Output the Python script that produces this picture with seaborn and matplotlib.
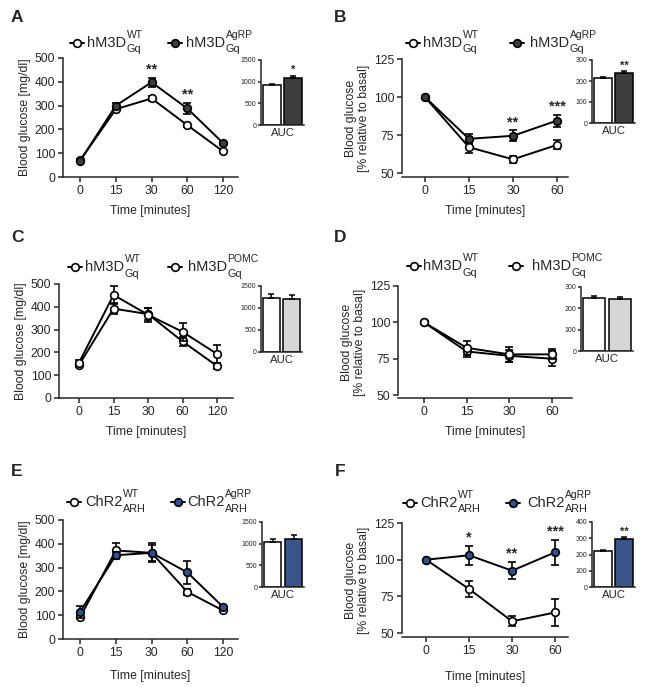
import numpy as np
import pandas as pd
import matplotlib
matplotlib.use("Agg")
import matplotlib.pyplot as plt
from matplotlib.lines import Line2D
import seaborn as sns

# --- data ---
t_long = ["0", "15", "30", "60", "120"]
t_short = ["0", "15", "30", "60"]

a_wt = [70, 285, 330, 218, 108]
a_wt_err = [5, 8, 12, 10, 5]
a_agrp = [68, 300, 398, 288, 143]
a_agrp_err = [5, 10, 18, 25, 8]
a_auc = [925, 1095]
a_auc_err = [20, 45]

b_wt = [100, 67, 59, 68.5]
b_wt_err = [0, 4, 2.5, 3]
b_agrp = [100, 72.5, 74.5, 84.5]
b_agrp_err = [0, 3, 3.5, 4]
b_auc = [213, 240]
b_auc_err = [4, 6]

c_wt = [145, 392, 368, 248, 140]
c_wt_err = [10, 25, 28, 18, 12]
c_pomc = [155, 452, 365, 290, 193]
c_pomc_err = [10, 38, 30, 38, 38]
c_auc = [1225, 1215]
c_auc_err = [100, 90]

d_wt = [100, 80, 77, 75]
d_wt_err = [0, 3.5, 4, 5]
d_pomc = [100, 82.5, 78, 78]
d_pomc_err = [0, 5, 5, 3.5]
d_auc = [248, 246]
d_auc_err = [12, 6]

e_wt = [92, 372, 362, 198, 120]
e_wt_err = [5, 30, 35, 12, 6]
e_agrp = [115, 352, 362, 280, 135]
e_agrp_err = [25, 15, 40, 48, 6]
e_auc = [1030, 1110]
e_auc_err = [70, 100]

f_wt = [100, 80, 58, 64]
f_wt_err = [0, 5.5, 3.5, 9.5]
f_agrp = [100, 103, 92.5, 105]
f_agrp_err = [0, 6.5, 6, 8.5]
f_auc = [220, 297]
f_auc_err = [7, 10]

a_stars = {2: "**", 3: "**"}
b_stars = {2: "**", 3: "***"}
f_stars = {1: "*", 2: "**", 3: "***"}

# legend labels: (base, subscript, superscript)
lab_gq = [("hM3D", "Gq", "WT"), ("hM3D", "Gq", "AgRP")]
lab_pomc = [("hM3D", "Gq", "WT"), ("hM3D", "Gq", "POMC")]
lab_chr = [("ChR2", "ARH", "WT"), ("ChR2", "ARH", "AgRP")]

DARK = "#3d3d3d"
BLUE = "#2b5197"
LIGHT = "#d6d6d6"

sns.set_style("ticks")
plt.rcParams["font.family"] = ["Liberation Sans", "DejaVu Sans"]
plt.rcParams["axes.linewidth"] = 1.1
plt.rcParams["xtick.major.width"] = 1.1
plt.rcParams["ytick.major.width"] = 1.1

W, H = 645, 687
fig = plt.figure(figsize=(W / 100, H / 100), dpi=100)
renderer = fig.canvas.get_renderer()


def box(l, t, r, b):
    return fig.add_axes([l / W, 1 - b / H, (r - l) / W, (b - t) / H])


def fy(y):
    return 1 - y / H


def legend_entry(x0, xt, y, fc, label):
    base, sub, sup = label
    fig.add_artist(Line2D([x0 / W, (x0 + 7) / W, (x0 + 14) / W], [fy(y)] * 3,
                          color="black", lw=1.4, marker="o", markevery=[1],
                          markersize=5.5, markerfacecolor=fc, markeredgecolor="black",
                          markeredgewidth=1.2))
    t = fig.text(xt / W, fy(y), base, fontsize=10.5, va="center", ha="left")
    bb = t.get_window_extent(renderer)
    xs = bb.x1 / W + 0.5 / W
    fig.text(xs, fy(y + 6.5), sub, fontsize=7.8, va="center", ha="left")
    fig.text(xs, fy(y - 8), sup, fontsize=7.5, va="center", ha="left")


def line_panel(ax, ticks, s1, e1, s2, e2, fc2, ylim, yticks, xlim,
               ylabel, stars=None, ybound=None, xpad=6):
    x = np.arange(len(ticks))
    for s, e, fc, z in [(s1, e1, "white", 3), (s2, e2, fc2, 4)]:
        ax.errorbar(x, s, yerr=e, fmt="none", ecolor="black", elinewidth=1.2,
                    capsize=3, capthick=1.2, zorder=z - 1, clip_on=False)
        sns.lineplot(x=x, y=s, ax=ax, color="black", linewidth=1.4, marker="o",
                     markersize=5.5, markerfacecolor=fc, markeredgecolor="black",
                     markeredgewidth=1.2, zorder=z, clip_on=False)
    if stars:
        for i, st in stars.items():
            top = max(s1[i] + e1[i], s2[i] + e2[i])
            ax.annotate(st, (i, top), xytext=(0, 1), textcoords="offset points",
                        ha="center", va="bottom", fontsize=10.5, fontweight="bold")
    ax.set_xlim(*xlim)
    ax.set_ylim(*ylim)
    ax.set_xticks(x)
    ax.set_xticklabels(ticks)
    ax.set_yticks(yticks)
    ax.tick_params(labelsize=8.8, length=3.5, pad=2)
    ax.set_xlabel("Time [minutes]", fontsize=8.8, labelpad=xpad)
    ax.set_ylabel(ylabel, fontsize=8.8, labelpad=3, linespacing=1.1)
    sns.despine(ax=ax)
    if ybound:
        ax.spines["left"].set_bounds(*ybound)


def auc_panel(ax, vals, errs, color, ylim, yticks, star=None):
    df = pd.DataFrame({"g": ["WT", "KO"], "v": vals})
    sns.barplot(data=df, x="g", y="v", hue="g", palette=["white", color], ax=ax,
                width=0.84, edgecolor="black", linewidth=1.1, legend=False)
    ax.errorbar([0, 1], vals, yerr=[[0, 0], errs], fmt="none", ecolor="black",
                elinewidth=1.1, capsize=2.5, capthick=1.1)
    if star:
        ax.annotate(star, (1, vals[1] + errs[1]), xytext=(0, 0.5), textcoords="offset points",
                    ha="center", va="bottom", fontsize=8, fontweight="bold")
    ax.set_xlim(-0.5, 1.5)
    ax.set_ylim(*ylim)
    ax.set_yticks(yticks)
    ax.set_xticks([])
    ax.set_xlabel("AUC", fontsize=8.2, labelpad=2)
    ax.set_ylabel("")
    ax.tick_params(axis="y", labelsize=5, length=2.5, pad=1)
    sns.despine(ax=ax)


gl = "Blood glucose [mg/dl]"
gr = "Blood glucose\n[% relative to basal]"

# A
ax = box(63, 58, 238, 177)
line_panel(ax, t_long, a_wt, a_wt_err, a_agrp, a_agrp_err, DARK,
           (0, 500), range(0, 501, 100), (-0.48, 4.42), gl, a_stars)
auc_panel(box(261, 60, 304, 125), a_auc, a_auc_err, DARK, (0, 1500), range(0, 1501, 500), "*")
legend_entry(70, 87, 43, "white", lab_gq[0])
legend_entry(168, 186, 43, DARK, lab_gq[1])

# B
ax = box(402, 59, 568, 177)
line_panel(ax, t_short, b_wt, b_wt_err, b_agrp, b_agrp_err, DARK,
           (47.4, 125), [50, 75, 100, 125], (-0.52, 3.25), gr, b_stars, (50, 125))
auc_panel(box(592, 60, 635, 123), b_auc, b_auc_err, DARK, (0, 300), range(0, 301, 100), "**")
legend_entry(406, 423, 43, "white", lab_gq[0])
legend_entry(510, 530, 43, DARK, lab_gq[1])

# C
ax = box(59, 284, 233, 398)
line_panel(ax, t_long, c_wt, c_wt_err, c_pomc, c_pomc_err, "white",
           (0, 500), range(0, 501, 100), (-0.58, 4.46), gl)
auc_panel(box(261, 286, 302, 352), c_auc, c_auc_err, LIGHT, (0, 1500), range(0, 1501, 500))
legend_entry(68, 85, 267, "white", lab_pomc[0])
legend_entry(168, 188, 267, "white", lab_pomc[1])

# D
ax = box(398, 286, 572, 398)
line_panel(ax, t_short, d_wt, d_wt_err, d_pomc, d_pomc_err, "white",
           (48, 125), [50, 75, 100, 125], (-0.61, 3.47), gr, None, (50, 125))
auc_panel(box(581, 287, 633, 351), d_auc, d_auc_err, LIGHT, (0, 300), range(0, 301, 100))
legend_entry(407, 423, 266, "white", lab_pomc[0])
legend_entry(509, 532, 266, "white", lab_pomc[1])

# E
ax = box(63, 520, 238, 639)
line_panel(ax, t_long, e_wt, e_wt_err, e_agrp, e_agrp_err, BLUE,
           (0, 500), range(0, 501, 100), (-0.48, 4.42), gl, xpad=8)
auc_panel(box(262, 522, 304, 587), e_auc, e_auc_err, BLUE, (0, 1500), range(0, 1501, 500))
legend_entry(67, 85, 502, "white", lab_chr[0])
legend_entry(171, 187, 502, BLUE, lab_chr[1])

# F
ax = box(402, 523, 568, 637)
line_panel(ax, t_short, f_wt, f_wt_err, f_agrp, f_agrp_err, BLUE,
           (47.3, 125), [50, 75, 100, 125], (-0.56, 3.3), gr, f_stars, (50, 125), xpad=10)
auc_panel(box(592, 522, 635, 587), f_auc, f_auc_err, BLUE, (0, 400), range(0, 401, 100), "**")
legend_entry(403, 420, 503, "white", lab_chr[0])
legend_entry(506, 527, 503, BLUE, lab_chr[1])

for letter, x, y in [("A", 17, 17), ("B", 340, 17), ("C", 17, 237),
                     ("D", 340, 237), ("E", 17, 472), ("F", 340, 472)]:
    fig.text(x / W, fy(y), letter, fontsize=12.5, fontweight="bold",
             ha="center", va="center")

fig.savefig("out.png", dpi=100)
